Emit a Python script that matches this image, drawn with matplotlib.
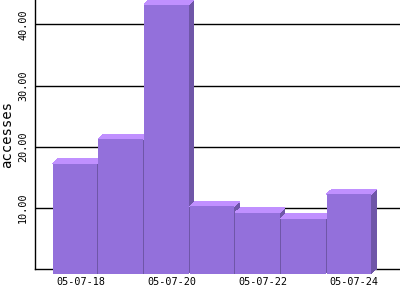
import matplotlib
matplotlib.use('Agg')
import matplotlib.pyplot as plt
from matplotlib.patches import Rectangle, Polygon

# data
dates = ['05-07-18', '05-07-19', '05-07-20', '05-07-21', '05-07-22', '05-07-23', '05-07-24']
accesses = [18, 22, 44, 11, 10, 9, 13]
yticks = [10, 20, 30, 40]

front_color = '#9370DB'
top_color = '#C090FF'
side_color = '#6F56A8'

fig = plt.figure(figsize=(4, 3), dpi=100)
ax = fig.add_axes([35/400, 31/300, 365/400, 269/300])
ax.set_xlim(-1, 7)
ax.set_ylim(0, 44)

# depth of the fake 3d look, in data units (about 5 px)
dx = 5.0 / 45.6
dy = 4.7 / 6.11

for i, v in enumerate(accesses):
    x0 = i - 0.5 - dx
    x1 = i + 0.5 - dx - 0.022
    y0 = -dy
    y1 = v - dy
    side = Polygon([(x1 - 0.01, y0), (x1 + dx, y0 + dy), (x1 + dx, y1 + dy), (x1 - 0.01, y1)],
                   closed=True, facecolor=side_color, edgecolor='none', zorder=3,
                   clip_on=False, antialiased=False)
    top = Polygon([(x0, y1), (x0 + dx, y1 + dy), (x1 + dx, y1 + dy), (x1, y1)],
                  closed=True, facecolor=top_color, edgecolor='none', zorder=3,
                  clip_on=False, antialiased=False)
    front = Rectangle((x0, y0), x1 - x0, v, facecolor=front_color, edgecolor='none',
                      zorder=4, clip_on=False, antialiased=False)
    ax.add_patch(side)
    ax.add_patch(top)
    ax.add_patch(front)

for t in yticks:
    ax.axhline(t, color='black', linewidth=1, zorder=1)

for s in ['top', 'right']:
    ax.spines[s].set_visible(False)
ax.spines['left'].set_linewidth(1)
ax.spines['bottom'].set_linewidth(1)
ax.spines['bottom'].set_zorder(2)

ax.set_xticks(range(0, len(dates), 2))
ax.set_xticklabels(dates[::2], fontfamily='DejaVu Sans Mono', fontsize=7.3)
ax.set_yticks(yticks)
ax.set_yticklabels(['%.2f' % t for t in yticks], rotation=90, va='center',
                   fontfamily='DejaVu Sans Mono', fontsize=7.3)
ax.tick_params(axis='both', length=0)
ax.tick_params(axis='x', pad=6)
ax.tick_params(axis='y', pad=5)

ax.set_ylabel('accesses', fontfamily='DejaVu Sans Mono', fontsize=10, labelpad=3)

fig.savefig('out.png', dpi=100)
